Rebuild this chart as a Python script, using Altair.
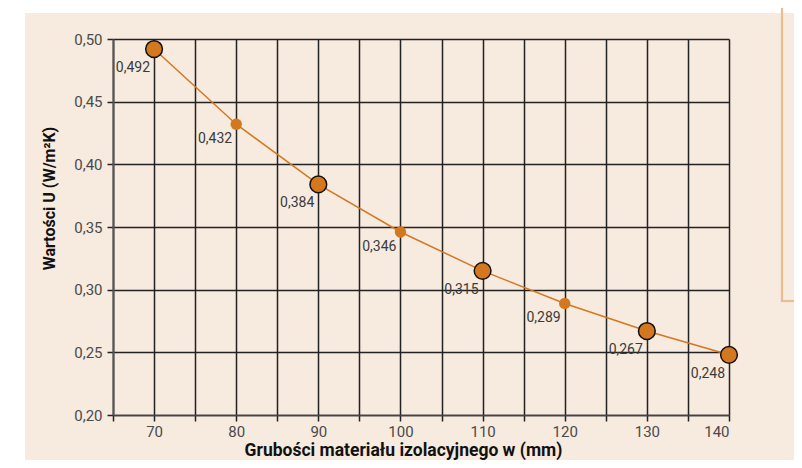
import altair as alt
import pandas as pd

# data
thickness = [70, 80, 90, 100, 110, 120, 130, 140]
u_values = [0.492, 0.432, 0.384, 0.346, 0.315, 0.289, 0.267, 0.248]
large_marker_at = [70, 90, 110, 130, 140]
x_ticks = [65, 70, 75, 80, 85, 90, 95, 100, 105, 110, 115, 120, 125, 130, 135, 140]
y_ticks = [0.20, 0.25, 0.30, 0.35, 0.40, 0.45, 0.50]

df = pd.DataFrame({"x": thickness, "u": u_values})
dummy = pd.DataFrame({"k": [0]})

ORANGE = "#d4781f"
BEIGE = "#f7eadf"
TAN = "#ebbd8e"
FONT = "Roboto"

base = alt.Chart(df).transform_calculate(
    label="replace(format(datum.u, '.3f'), '.', ',')"
)

x_enc = alt.X(
    "x:Q",
    scale=alt.Scale(domain=[65, 140], nice=False, zero=False),
    axis=alt.Axis(
        values=x_ticks,
        labelExpr="datum.value % 10 == 0 ? datum.label : ''",
        grid=True,
        gridColor="#222222",
        gridWidth=1.5,
        domainColor="#444444",
        domainWidth=1.6,
        tickColor="#222222",
        tickWidth=1.5,
        tickSize=6,
        labelPadding=3,
        labelFont=FONT,
        labelFontSize=15,
        labelColor="#4a4a4a",
        title="Grubości materiału izolacyjnego w (mm)",
        titleFont=FONT,
        titleFontSize=17.5,
        titleFontWeight="bold",
        titleColor="#111111",
        titleX=290,
        titleY=35,
        titleAlign="center",
        titleBaseline="middle",
    ),
)
y_enc = alt.Y(
    "u:Q",
    scale=alt.Scale(domain=[0.20, 0.50], nice=False, zero=False),
    axis=alt.Axis(
        values=y_ticks,
        labelExpr="replace(format(datum.value, '.2f'), '.', ',')",
        grid=True,
        gridColor="#222222",
        gridWidth=1.5,
        domainColor="#555555",
        domainWidth=2,
        tickColor="#222222",
        tickWidth=1.5,
        tickSize=6,
        labelPadding=5,
        labelFont=FONT,
        labelFontSize=15,
        labelColor="#4a4a4a",
        title="Wartości U (W/m²K)",
        titleFont=FONT,
        titleFontSize=16,
        titleFontWeight="bold",
        titleColor="#111111",
        titleX=-64,
        titleY=159,
        titleAngle=270,
        titleAlign="center",
        titleBaseline="middle",
    ),
)

line = base.mark_line(color=ORANGE, strokeWidth=1.5).encode(x=x_enc, y=y_enc)

big = base.transform_filter(
    alt.FieldOneOfPredicate(field="x", oneOf=large_marker_at)
)
small = base.transform_filter(
    {"not": alt.FieldOneOfPredicate(field="x", oneOf=large_marker_at)}
)

big_pts = big.mark_point(
    shape="circle", filled=True, fill=ORANGE, stroke="#111111",
    strokeWidth=1.5, size=280, opacity=1
).encode(x="x:Q", y="u:Q")
small_pts = small.mark_point(
    shape="circle", filled=True, fill=ORANGE, strokeWidth=0, size=130, opacity=1
).encode(x="x:Q", y="u:Q")

big_txt = big.mark_text(
    align="right", baseline="middle", dx=-4, dy=19, font=FONT, fontSize=14,
    color="#3a3a3a"
).encode(x="x:Q", y="u:Q", text="label:N")
small_txt = small.mark_text(
    align="right", baseline="middle", dx=-4, dy=15, font=FONT, fontSize=14,
    color="#3a3a3a"
).encode(x="x:Q", y="u:Q", text="label:N")

deco = alt.Chart(dummy)
white_left = deco.mark_rect(color="white").encode(
    x=alt.value(-105), x2=alt.value(-88), y=alt.value(-31), y2=alt.value(421)
)
white_top = deco.mark_rect(color="white").encode(
    x=alt.value(-105), x2=alt.value(681), y=alt.value(-31), y2=alt.value(-26)
)
frame_v = deco.mark_rule(color=TAN, strokeWidth=2.2).encode(
    x=alt.value(669), y=alt.value(-31), y2=alt.value(263)
)
frame_h = deco.mark_rule(color=TAN, strokeWidth=2.2).encode(
    x=alt.value(668), x2=alt.value(681), y=alt.value(262)
)

chart = alt.layer(
    white_left, white_top, frame_v, frame_h,
    line, small_pts, big_pts, small_txt, big_txt
).properties(
    width=616,
    height=376,
    autosize=alt.AutoSizeParams(type="none"),
    padding={"left": 105, "top": 31, "right": 65, "bottom": 45},
    background=BEIGE,
).configure_view(stroke=None)

chart.save("out.html", embed_options={"renderer": "svg", "actions": False})
